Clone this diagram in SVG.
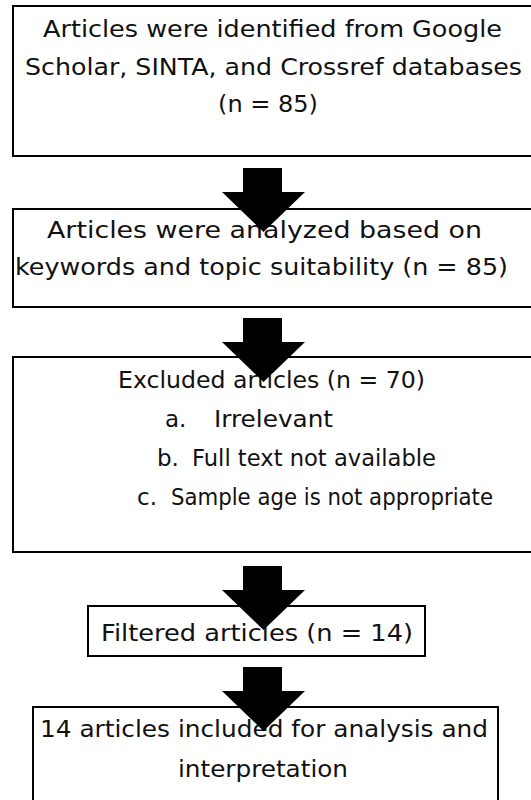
<svg xmlns="http://www.w3.org/2000/svg" width="531" height="800" viewBox="0 0 531 800">
<style>
.box{fill:#fff;stroke:#000;stroke-width:2}
.t{font-family:"DejaVu Sans","Liberation Sans",sans-serif;font-size:23px;fill:#111}
.c{text-anchor:middle}
.arr{fill:#000}
</style>
<rect width="531" height="800" fill="#fff"/>
<g id="n1">
<rect class="box" x="13" y="6" width="520" height="150"/>
<text class="t c" x="272.5" y="37" textLength="459" lengthAdjust="spacingAndGlyphs">Articles were identified from Google</text>
<text class="t c" x="273.5" y="75" textLength="497" lengthAdjust="spacingAndGlyphs">Scholar, SINTA, and Crossref databases</text>
<text class="t c" x="268" y="112" textLength="100" lengthAdjust="spacingAndGlyphs">(n = 85)</text>
</g>
<g id="n2">
<rect class="box" x="13" y="209" width="520" height="98"/>
<text class="t c" x="264.5" y="238" textLength="435" lengthAdjust="spacingAndGlyphs">Articles were analyzed based on</text>
<text class="t c" x="261.5" y="275" textLength="493" lengthAdjust="spacingAndGlyphs">keywords and topic suitability (n = 85)</text>
</g>
<g id="n3">
<rect class="box" x="13" y="357" width="520" height="195"/>
<text class="t c" x="271.5" y="388" textLength="307" lengthAdjust="spacingAndGlyphs">Excluded articles (n = 70)</text>
<text class="t"><tspan x="165" y="427">a.</tspan><tspan x="214" y="427" textLength="119" lengthAdjust="spacingAndGlyphs">Irrelevant</tspan></text>
<text class="t"><tspan x="157" y="466">b.</tspan><tspan x="192" y="466" textLength="244" lengthAdjust="spacingAndGlyphs">Full text not available</tspan></text>
<text class="t"><tspan x="137" y="505">c.</tspan><tspan x="171" y="505" textLength="322" lengthAdjust="spacingAndGlyphs">Sample age is not appropriate</tspan></text>
</g>
<g id="n4">
<rect class="box" x="88" y="606" width="337" height="50"/>
<text class="t c" x="257" y="641" textLength="312" lengthAdjust="spacingAndGlyphs">Filtered articles (n = 14)</text>
</g>
<g id="n5">
<rect class="box" x="33" y="707" width="465" height="100"/>
<text class="t c" x="264" y="737" textLength="448" lengthAdjust="spacingAndGlyphs">14 articles included for analysis and</text>
<text class="t c" x="263" y="777" textLength="170" lengthAdjust="spacingAndGlyphs">interpretation</text>
</g>
<g id="connectors">
<polygon class="arr" points="243,168 282,168 282,192 305,192 263.5,232 222,192 243,192"/>
<polygon class="arr" points="243,318 282,318 282,342 305,342 263.5,382 222,342 243,342"/>
<polygon class="arr" points="243,566 282,566 282,590 305,590 263.5,630 222,590 243,590"/>
<polygon class="arr" points="243,667 282,667 282,691 305,691 263.5,731 222,691 243,691"/>
</g>
</svg>
